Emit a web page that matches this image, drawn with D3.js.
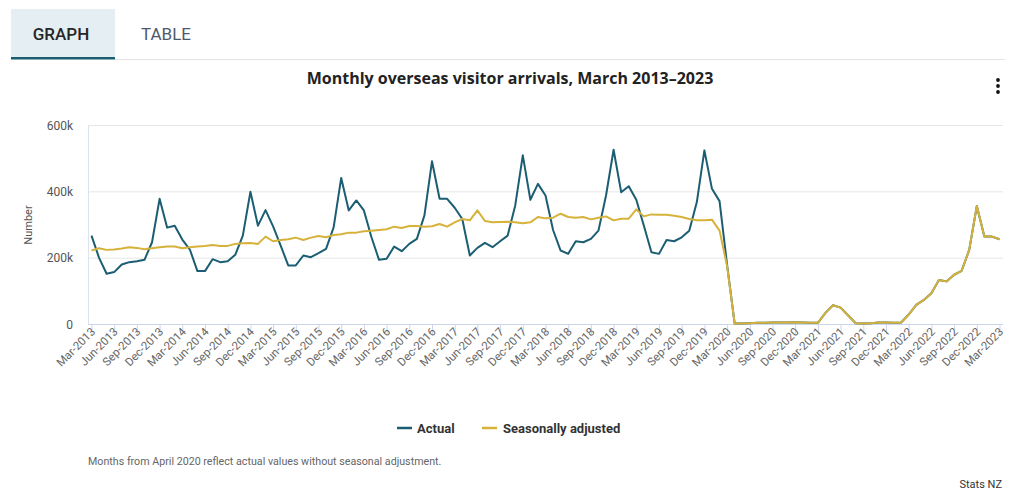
<!DOCTYPE html>
<html>
<head>
<meta charset="utf-8">
<script src="https://cdn.jsdelivr.net/npm/d3@7"></script>
<style>
  body { margin: 0; background: #fff; font-family: Roboto, "Noto Sans", sans-serif; }
  svg { display: block; }
  .axis path, .axis line { stroke: #ccd6eb; }
  .axis text { fill: #666; font-family: Roboto, sans-serif; }
</style>
</head>
<body>
<svg id="chart" width="1014" height="490"></svg>
<script>
// monthly values, thousands, Mar-2013 .. Mar-2023
var actual = [
  268, 201, 153, 158, 181, 188, 191, 195, 248, 379,
  292, 298, 256, 226, 161, 161, 197, 188, 191, 210, 268, 400,
  298, 345, 296, 238, 178, 178, 208, 203, 215, 228, 293, 442,
  344, 374, 344, 263, 195, 198, 235, 221, 243, 258, 329, 492,
  379, 379, 352, 318, 208, 231, 246, 233, 251, 268, 359, 510,
  376, 424, 389, 285, 223, 213, 251, 248, 258, 283, 389, 527,
  399, 417, 376, 298, 218, 213, 255, 251, 263, 283, 369, 525,
  409, 372, 180, 3, 3, 4, 5, 5, 6, 6, 6, 7,
  6, 5, 5, 35, 58, 51, 27, 4, 3, 4, 6, 6,
  5, 6, 30, 59, 74, 94, 134, 130, 150, 162, 225, 357,
  265, 265, 257
];
var seasonal = [
  223, 230, 225, 226, 229, 233, 231, 227, 230, 233,
  235, 235, 230, 233, 235, 237, 240, 237, 237, 243, 245, 246,
  243, 265, 251, 255, 257, 262, 255, 262, 267, 263, 270, 272,
  277, 277, 281, 283, 285, 287, 295, 291, 297, 297, 295, 296,
  303, 295, 308, 318, 314, 344, 312, 308, 309, 310, 308, 305,
  308, 324, 320, 322, 334, 324, 322, 324, 317, 322, 326, 314,
  319, 319, 347, 326, 332, 331, 331, 328, 324, 318, 314, 314,
  316, 283, 176, 3, 3, 4, 5, 5, 6, 6, 6, 7,
  6, 5, 5, 35, 58, 51, 27, 4, 3, 4, 6, 6,
  5, 6, 30, 59, 74, 94, 134, 130, 150, 162, 225, 357,
  265, 265, 257
];
var yTicks = [0, 200, 400, 600];
var seriesNames = ["Actual", "Seasonally adjusted"];
var colors = ["#1b5e73", "#d6b23a"];

var fmt = d3.timeFormat("%b-%Y");
var months = d3.timeMonth.range(new Date(2013, 2, 1), new Date(2023, 3, 1)).map(fmt);

var svg = d3.select("#chart");

// tabs
svg.append("rect").attr("x", 11).attr("y", 9).attr("width", 104).attr("height", 49).attr("fill", "#e5eef2");
svg.append("line").attr("x1", 115).attr("x2", 1005).attr("y1", 59.5).attr("y2", 59.5).attr("stroke", "#e3e3e3");
svg.append("rect").attr("x", 11).attr("y", 57).attr("width", 104).attr("height", 2.5).attr("fill", "#1b5e73");
svg.append("text").attr("x", 61).attr("y", 40).attr("text-anchor", "middle")
    .style("font", "500 17px Roboto").attr("fill", "#262626").text("GRAPH");
svg.append("text").attr("x", 166).attr("y", 40).attr("text-anchor", "middle")
    .style("font", "400 17px Roboto").attr("fill", "#4e586a").text("TABLE");

// title + menu
svg.append("text").attr("x", 510).attr("y", 84).attr("text-anchor", "middle")
    .style("font", "bold 16px 'Open Sans'").attr("fill", "#222").text("Monthly overseas visitor arrivals, March 2013\u20132023");
[80, 86, 92].forEach(function (cy) {
    svg.append("circle").attr("cx", 998).attr("cy", cy).attr("r", 1.9).attr("fill", "#111");
});

var x = d3.scalePoint().domain(months).range([91.5, 999.5]);
var y = d3.scaleLinear().domain([0, 600]).range([324.5, 125.5]);

// grid
svg.append("g").selectAll("line").data(yTicks.slice(1)).enter().append("line")
    .attr("x1", 88).attr("x2", 1003)
    .attr("y1", function (d) { return y(d); }).attr("y2", function (d) { return y(d); })
    .attr("stroke", "#e6e6e6");
svg.append("line").attr("x1", 88.5).attr("x2", 88.5).attr("y1", 125).attr("y2", 324.5).attr("stroke", "#dde3ee");

// y axis labels
svg.append("g").selectAll("text").data(yTicks).enter().append("text")
    .attr("x", 73).attr("y", function (d) { return y(d) + 4; })
    .attr("text-anchor", "end").style("font", "12px Roboto").attr("fill", "#555")
    .text(function (d) { return d === 0 ? "0" : d + "k"; });
svg.append("text").attr("transform", "translate(32,225) rotate(-90)").attr("text-anchor", "middle")
    .style("font", "11px Roboto").attr("fill", "#555").text("Number");

// x axis
var xAxis = svg.append("g").attr("class", "axis").attr("transform", "translate(0,324.5)")
    .call(d3.axisBottom(x).tickValues(months.filter(function (d, i) { return i % 3 === 0; })).tickSize(10).tickSizeOuter(0));
xAxis.select(".domain").attr("d", "M88,0H1003");
xAxis.selectAll("text")
    .style("font-size", "11.5px")
    .attr("text-anchor", "end")
    .attr("dy", null)
    .attr("transform", "translate(4,8) rotate(-45)")
    .attr("y", 0).attr("x", 0);

// lines
var line = d3.line()
    .x(function (d, i) { return x(months[i]); })
    .y(function (d) { return y(d); });
[actual, seasonal].forEach(function (s, k) {
    svg.append("path").datum(s).attr("d", line).attr("fill", "none")
        .attr("stroke", colors[k]).attr("stroke-width", 2).attr("stroke-linejoin", "round");
});

// legend
var legend = [{ x: 397, tx: 417 }, { x: 482, tx: 503 }];
legend.forEach(function (l, k) {
    svg.append("line").attr("x1", l.x).attr("x2", l.x + 15).attr("y1", 428).attr("y2", 428)
        .attr("stroke", colors[k]).attr("stroke-width", 2.5);
    svg.append("text").attr("x", l.tx).attr("y", 432.5).style("font", "bold 13px Roboto")
        .attr("fill", "#333").text(seriesNames[k]);
});

svg.append("text").attr("x", 88).attr("y", 465).style("font", "10.7px Roboto").attr("fill", "#666")
    .text("Months from April 2020 reflect actual values without seasonal adjustment.");
svg.append("text").attr("x", 1002).attr("y", 488).attr("text-anchor", "end")
    .style("font", "11px Roboto").attr("fill", "#333").text("Stats NZ");
</script>
</body>
</html>
